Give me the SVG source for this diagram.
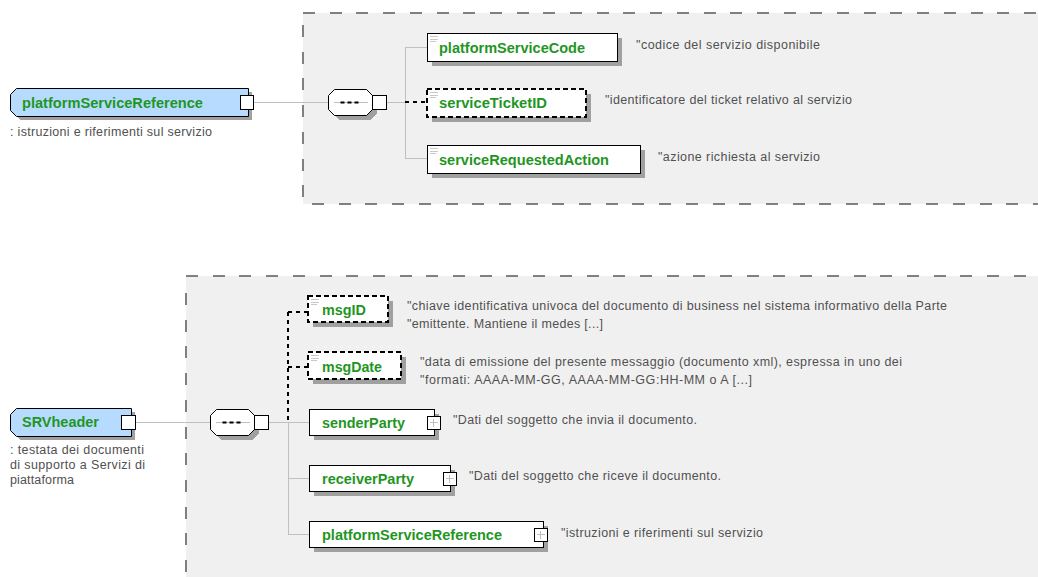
<svg xmlns="http://www.w3.org/2000/svg" width="1038" height="577" viewBox="0 0 1038 577">
<style>
.region{fill:#f0f0f0}
.rb{stroke:#808080;stroke-width:2;stroke-dasharray:12 14.7;fill:none;shape-rendering:crispEdges}
.sh{fill:#a0a0a0;shape-rendering:crispEdges}
.box{fill:#fff;stroke:#000;stroke-width:1;shape-rendering:crispEdges}
.opt{fill:#fff;stroke:#000;stroke-width:1.5;stroke-dasharray:5 3;shape-rendering:crispEdges}
.gbox{fill:#b7dbff;stroke:#000;stroke-width:1}
.port{fill:#fff;stroke:#000;stroke-width:1;shape-rendering:crispEdges}
.plus{stroke:#c0c0c0;stroke-width:1;shape-rendering:crispEdges}
.lbl{font-family:"Liberation Sans",Arial,sans-serif;font-weight:bold;font-size:14.5px;fill:#1f961f}
.ann{font-family:"Liberation Sans",Arial,sans-serif;font-size:12.5px;fill:#505050}
.conn{stroke:#c0c0c0;stroke-width:1;fill:none;shape-rendering:crispEdges}
.dconn{stroke:#000;stroke-width:1.2;stroke-dasharray:4 4;fill:none;shape-rendering:crispEdges}
.icon{stroke:#c8c8c8;stroke-width:1;shape-rendering:crispEdges}
.seqdot{fill:#000}
</style>
<defs>
<g id="ico"><line class="icon" x1="3" y1="3.5" x2="11" y2="3.5"/><line class="icon" x1="3" y1="6" x2="11" y2="6"/><line class="icon" x1="3" y1="8.5" x2="9" y2="8.5"/></g>
<g id="seq">
<polygon class="sh" points="10,4 42,4 48,10 48,24 42,30 10,30 4,24 4,10"/>
<polygon fill="#fff" stroke="#000" points="6,0 38,0 44,6 44,20 38,26 6,26 0,20 0,6"/>
<line class="conn" x1="5" y1="13" x2="39" y2="13"/>
<rect class="seqdot" x="12" y="12" width="4" height="2"/>
<rect class="seqdot" x="19" y="12" width="4" height="2"/>
<rect class="seqdot" x="26" y="12" width="4" height="2"/>
<rect class="port" x="44" y="6" width="14" height="14"/>
</g>
<g id="pport"><rect class="port" x="0" y="0" width="13" height="13"/><line class="plus" x1="6.5" y1="2.5" x2="6.5" y2="10.5"/><line class="plus" x1="2.5" y1="6.5" x2="10.5" y2="6.5"/></g>
</defs>

<g id="regions">
<rect class="region" x="303" y="13" width="740" height="191"/>
<line class="rb" x1="303" y1="13" x2="1040" y2="13"/>
<line class="rb" x1="303" y1="25" x2="303" y2="204"/>
<line class="rb" x1="312" y1="204" x2="1040" y2="204"/>
<rect class="region" x="186" y="276" width="860" height="310"/>
<line class="rb" x1="186" y1="276" x2="1040" y2="276"/>
<line class="rb" x1="186" y1="293" x2="186" y2="580"/>
</g>

<g id="connectors">
<line class="conn" x1="254" y1="102" x2="328" y2="102"/>
<line class="conn" x1="386" y1="102" x2="405" y2="102"/>
<line class="conn" x1="405" y1="47" x2="405" y2="158"/>
<line class="conn" x1="405" y1="47" x2="427" y2="47"/>
<line class="conn" x1="405" y1="158" x2="427" y2="158"/>
<line class="dconn" x1="405" y1="102" x2="427" y2="102"/>
<line class="conn" x1="135" y1="422" x2="210" y2="422"/>
<line class="conn" x1="268" y1="422" x2="309" y2="422"/>
<line class="conn" x1="288" y1="422" x2="288" y2="534"/>
<line class="conn" x1="288" y1="478" x2="309" y2="478"/>
<line class="conn" x1="288" y1="534" x2="309" y2="534"/>
<line class="dconn" x1="288" y1="312" x2="288" y2="420"/>
<line class="dconn" x1="288" y1="312" x2="308" y2="312"/>
<line class="dconn" x1="288" y1="367" x2="308" y2="367"/>
</g>

<g id="node-platformServiceReference">
<path class="sh" d="M20,92 H252 V120 H20 L14,114 V98 Z"/>
<path class="gbox" d="M16.5,88.5 H248.5 V116.5 H16.5 L10.5,110.5 V94.5 Z"/>
<rect class="port" x="240" y="95" width="13" height="14"/>
<text class="lbl" x="22" y="108" textLength="181" lengthAdjust="spacingAndGlyphs">platformServiceReference</text>
<text class="ann" x="10" y="136" textLength="202" lengthAdjust="spacing">: istruzioni e riferimenti sul servizio</text>
</g>

<g id="node-seq-top"><use href="#seq" x="328.5" y="89.5"/></g>

<g id="node-platformServiceCode">
<rect class="sh" x="432" y="38" width="190" height="28"/>
<rect class="box" x="427" y="33" width="190" height="28"/>
<use href="#ico" x="427" y="33"/>
<text class="lbl" x="439" y="53" textLength="146" lengthAdjust="spacingAndGlyphs">platformServiceCode</text>
<text class="ann" x="636" y="49" textLength="184" lengthAdjust="spacing">"codice del servizio disponibile</text>
</g>

<g id="node-serviceTicketID">
<rect class="sh" x="432" y="94" width="159" height="28"/>
<rect class="opt" x="427" y="89" width="159" height="28"/>
<use href="#ico" x="427" y="89"/>
<text class="lbl" x="439" y="108" textLength="108" lengthAdjust="spacingAndGlyphs">serviceTicketID</text>
<text class="ann" x="605" y="104" textLength="247" lengthAdjust="spacing">"identificatore del ticket relativo al servizio</text>
</g>

<g id="node-serviceRequestedAction">
<rect class="sh" x="432" y="150" width="213" height="28"/>
<rect class="box" x="427" y="145" width="213" height="28"/>
<use href="#ico" x="427" y="145"/>
<text class="lbl" x="439" y="165" textLength="170" lengthAdjust="spacingAndGlyphs">serviceRequestedAction</text>
<text class="ann" x="658" y="161" textLength="162" lengthAdjust="spacing">"azione richiesta al servizio</text>
</g>

<g id="node-SRVheader">
<path class="sh" d="M20,412 H135 V440 H20 L14,434 V418 Z"/>
<path class="gbox" d="M16.5,408.5 H131.5 V436.5 H16.5 L10.5,430.5 V414.5 Z"/>
<rect class="port" x="121" y="415" width="14" height="14"/>
<text class="lbl" x="22" y="427" textLength="77" lengthAdjust="spacingAndGlyphs">SRVheader</text>
<text class="ann" x="10" y="454" textLength="134" lengthAdjust="spacing">: testata dei documenti</text>
<text class="ann" x="10" y="469" textLength="135" lengthAdjust="spacing">di supporto a Servizi di</text>
<text class="ann" x="10" y="484" textLength="64" lengthAdjust="spacing">piattaforma</text>
</g>

<g id="node-seq-bottom"><use href="#seq" x="210.5" y="409.5"/></g>

<g id="node-msgID">
<rect class="sh" x="313" y="301" width="80" height="26"/>
<rect class="opt" x="308" y="296" width="80" height="26"/>
<use href="#ico" x="308" y="296"/>
<text class="lbl" x="322" y="315" textLength="44" lengthAdjust="spacingAndGlyphs">msgID</text>
<text class="ann" x="407" y="310" textLength="540" lengthAdjust="spacing">"chiave identificativa univoca del documento di business nel sistema informativo della Parte</text>
<text class="ann" x="407" y="328" textLength="196" lengthAdjust="spacing">"emittente. Mantiene il medes [...]</text>
</g>

<g id="node-msgDate">
<rect class="sh" x="313" y="357" width="93" height="27"/>
<rect class="opt" x="308" y="352" width="93" height="27"/>
<use href="#ico" x="308" y="352"/>
<text class="lbl" x="322" y="372" textLength="60" lengthAdjust="spacingAndGlyphs">msgDate</text>
<text class="ann" x="420" y="366" textLength="482" lengthAdjust="spacing">"data di emissione del presente messaggio (documento xml), espressa in uno dei</text>
<text class="ann" x="420" y="384" textLength="332" lengthAdjust="spacing">"formati: AAAA-MM-GG, AAAA-MM-GG:HH-MM o A [...]</text>
</g>

<g id="node-senderParty">
<rect class="sh" x="314" y="414" width="125" height="26"/>
<rect class="box" x="309" y="409" width="125" height="26"/>
<use href="#pport" x="427" y="416"/>
<text class="lbl" x="322" y="428" textLength="83" lengthAdjust="spacingAndGlyphs">senderParty</text>
<text class="ann" x="453" y="424" textLength="244" lengthAdjust="spacing">"Dati del soggetto che invia il documento.</text>
</g>

<g id="node-receiverParty">
<rect class="sh" x="314" y="470" width="141" height="26"/>
<rect class="box" x="309" y="465" width="141" height="26"/>
<use href="#pport" x="443" y="472"/>
<text class="lbl" x="322" y="484" textLength="92" lengthAdjust="spacingAndGlyphs">receiverParty</text>
<text class="ann" x="469" y="480" textLength="252" lengthAdjust="spacing">"Dati del soggetto che riceve il documento.</text>
</g>

<g id="node-platformServiceReference-child">
<rect class="sh" x="314" y="526" width="234" height="26"/>
<rect class="box" x="309" y="521" width="234" height="26"/>
<use href="#pport" x="534" y="528"/>
<text class="lbl" x="322" y="540" textLength="180" lengthAdjust="spacingAndGlyphs">platformServiceReference</text>
<text class="ann" x="561" y="537" textLength="202" lengthAdjust="spacing">"istruzioni e riferimenti sul servizio</text>
</g>
</svg>
